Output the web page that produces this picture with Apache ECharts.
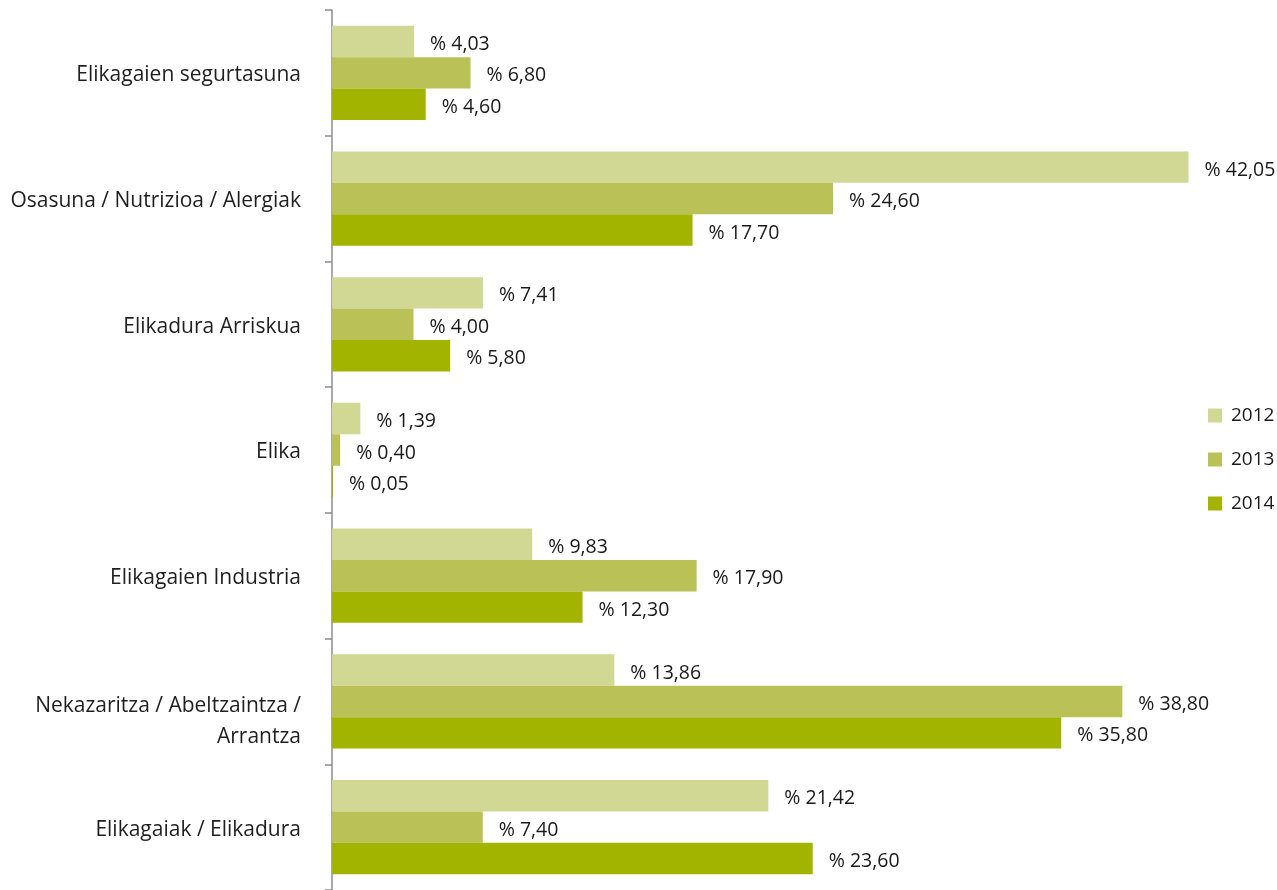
<!DOCTYPE html>
<html>
<head>
<meta charset="utf-8">
<script src="https://cdn.jsdelivr.net/npm/echarts@6/dist/echarts.min.js"></script>
<style>
  html, body { margin: 0; padding: 0; background: #fff; }
  #chart { width: 1277px; height: 890px; }
</style>
</head>
<body>
<div id="chart"></div>
<script>
const categories = [
  'Elikagaien segurtasuna',
  'Osasuna / Nutrizioa / Alergiak',
  'Elikadura Arriskua',
  'Elika',
  'Elikagaien Industria',
  'Nekazaritza / Abeltzaintza /\nArrantza',
  'Elikagaiak / Elikadura'
];
const years = ['2012', '2013', '2014'];
const values2012 = [4.03, 42.05, 7.41, 1.39, 9.83, 13.86, 21.42];
const values2013 = [6.80, 24.60, 4.00, 0.40, 17.90, 38.80, 7.40];
const values2014 = [4.60, 17.70, 5.80, 0.05, 12.30, 35.80, 23.60];
const colors = ['#d0d894', '#b9c157', '#a2b300'];

const font = '"Open Sans", Lato, sans-serif';

function makeSeries(name, data, color) {
  return {
    name: name,
    type: 'bar',
    data: data,
    barGap: '0%',
    barCategoryGap: '25%',
    itemStyle: { color: color },
    label: {
      show: true,
      position: 'right',
      distance: 16,
      offset: [0, 3],
      color: '#1a1a1a',
      fontFamily: font,
      fontSize: 19.5,
      formatter: p => '% ' + p.value.toFixed(2).replace('.', ',')
    }
  };
}

// a spacer line on top pushes each label down a bit; the two-line one sits much lower
function catLabel(v) {
  const lines = v.split('\n');
  const sp = lines.length > 1 ? '{sp2| }' : '{sp1| }';
  return sp + '\n' + lines.map(l => '{t|' + l + '}').join('\n');
}

const chart = echarts.init(document.getElementById('chart'));
chart.setOption({
  animation: false,
  legend: {
    data: years,
    orient: 'vertical',
    left: 1203,
    top: 401,
    itemWidth: 14,
    itemHeight: 14,
    itemGap: 25,
    icon: 'rect',
    textStyle: { fontFamily: font, fontSize: 19, color: '#1a1a1a', padding: [0, 0, 0, 4] }
  },
  grid: { left: 332, top: 10, width: 937, height: 882 },
  xAxis: {
    type: 'value',
    min: 0,
    max: 46,
    show: false
  },
  yAxis: {
    type: 'category',
    data: categories,
    inverse: true,
    axisLine: { lineStyle: { color: '#8c8c8c', width: 1.5 } },
    axisTick: { show: true, length: 7, lineStyle: { color: '#8c8c8c', width: 1.5 } },
    axisLabel: {
      margin: 31,
      align: 'right',
      formatter: catLabel,
      rich: {
        sp1: { fontSize: 4, lineHeight: 5 },
        sp2: { fontSize: 4, lineHeight: 40 },
        t: { color: '#1f1f1f', fontFamily: font, fontSize: 21, lineHeight: 31, align: 'right' }
      }
    }
  },
  series: [
    makeSeries(years[0], values2012, colors[0]),
    makeSeries(years[1], values2013, colors[1]),
    makeSeries(years[2], values2014, colors[2])
  ]
});
</script>
</body>
</html>
